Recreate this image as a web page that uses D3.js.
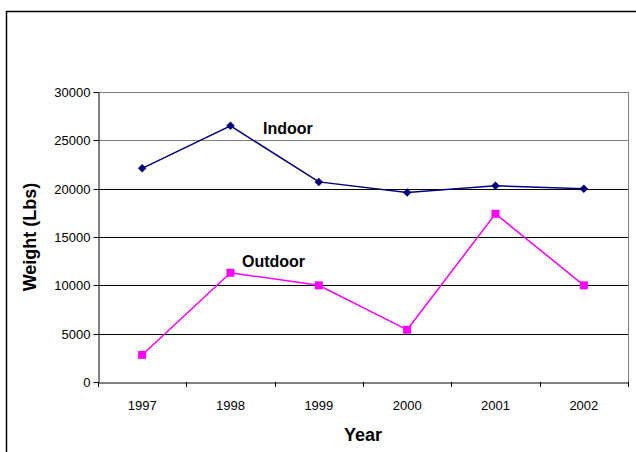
<!DOCTYPE html>
<html><head><meta charset="utf-8">
<script src="https://cdn.jsdelivr.net/npm/d3@7"></script>
<style>body{margin:0;background:#fff}svg{display:block;font-family:"Liberation Sans",Arial,sans-serif}</style>
</head><body><svg id="c" width="636" height="452"></svg>
<script>
const years = ["1997","1998","1999","2000","2001","2002"];
const indoor = [22100, 26500, 20700, 19600, 20300, 20000];
const outdoor = [2800, 11300, 10000, 5400, 17400, 10000];
const yTicks = [0, 5000, 10000, 15000, 20000, 25000, 30000];

const svg = d3.select("#c");
const L = 98, R = 628, T = 92, B = 382;
const x = d3.scaleBand().domain(years).range([L, R]);
const y = d3.scaleLinear().domain([0, 30000]).range([B, T]);

// outer chart border
svg.append("path").attr("d", `M6.5,452 V11.5 H636`).attr("fill","none").attr("stroke","#000").attr("stroke-width",1.5);

// gridlines
svg.append("g").selectAll("line").data(yTicks.filter(d => d > 0)).join("line")
  .attr("x1", L).attr("x2", R).attr("y1", d => Math.round(y(d)) + 0.5).attr("y2", d => Math.round(y(d)) + 0.5)
  .attr("stroke", d => d >= 25000 ? "#808080" : "#000").attr("stroke-width", 1);
// right border of plot area
svg.append("line").attr("x1", R + 0.5).attr("x2", R + 0.5).attr("y1", T).attr("y2", B).attr("stroke", "#808080");

// y axis
const yAxis = svg.append("g").attr("transform", `translate(${L + 0.5},0)`)
  .call(d3.axisLeft(y).tickValues(yTicks).tickFormat(d3.format("d")).tickSize(5).tickSizeOuter(0));
yAxis.select(".domain").attr("stroke", "#000");
yAxis.selectAll(".tick line").attr("stroke", "#000");
yAxis.selectAll("text").attr("font-size", 13).attr("font-family", "Liberation Sans, Arial").attr("fill", "#000").attr("x", -8);
yAxis.selectAll(".tick").attr("transform", d => `translate(0,${Math.round(y(d)) + 0.5})`);

// x axis
const xAxis = svg.append("g").attr("transform", `translate(0,${B + 0.5})`)
  .call(d3.axisBottom(x).tickSize(0).tickSizeOuter(0));
xAxis.select(".domain").attr("stroke", "#000");
xAxis.selectAll("text").attr("font-size", 13).attr("font-family", "Liberation Sans, Arial").attr("fill", "#000").attr("dy", "1.9em");
// category separators ticks
const bounds = years.map(d => x(d)).concat([R]);
svg.append("g").selectAll("line").data(bounds).join("line")
  .attr("x1", d => Math.round(d) + 0.5).attr("x2", d => Math.round(d) + 0.5)
  .attr("y1", B).attr("y2", B + 5).attr("stroke", "#000");

const cx = d => x(d) + x.bandwidth() / 2;
const line = d3.line().x((d, i) => cx(years[i])).y(d => y(d));

// indoor
svg.append("path").datum(indoor).attr("d", line).attr("fill", "none").attr("stroke", "#000080").attr("stroke-width", 1.5);
svg.append("g").selectAll("path").data(indoor).join("path")
  .attr("d", d3.symbol(d3.symbolSquare, 36))
  .attr("transform", (d, i) => `translate(${cx(years[i])},${y(d)}) rotate(45)`)
  .attr("fill", "#000080");

// outdoor
svg.append("path").datum(outdoor).attr("d", line).attr("fill", "none").attr("stroke", "#FF00FF").attr("stroke-width", 1.5);
svg.append("g").selectAll("rect").data(outdoor).join("rect")
  .attr("x", (d, i) => cx(years[i]) - 4).attr("y", d => y(d) - 4).attr("width", 8).attr("height", 8)
  .attr("fill", "#FF00FF");

// series labels
svg.append("text").attr("x", 263).attr("y", 134).attr("font-size", 16).attr("font-weight", "bold").text("Indoor");
svg.append("text").attr("x", 242).attr("y", 267).attr("font-size", 16).attr("font-weight", "bold").text("Outdoor");

// axis titles
svg.append("text").attr("x", (L + R) / 2).attr("y", 441).attr("text-anchor", "middle").attr("font-size", 18).attr("font-weight", "bold").text("Year");
svg.append("text").attr("transform", `translate(36,${(T + B) / 2}) rotate(-90)`).attr("text-anchor", "middle").attr("font-size", 18).attr("font-weight", "bold").text("Weight (Lbs)");
</script></body></html>
